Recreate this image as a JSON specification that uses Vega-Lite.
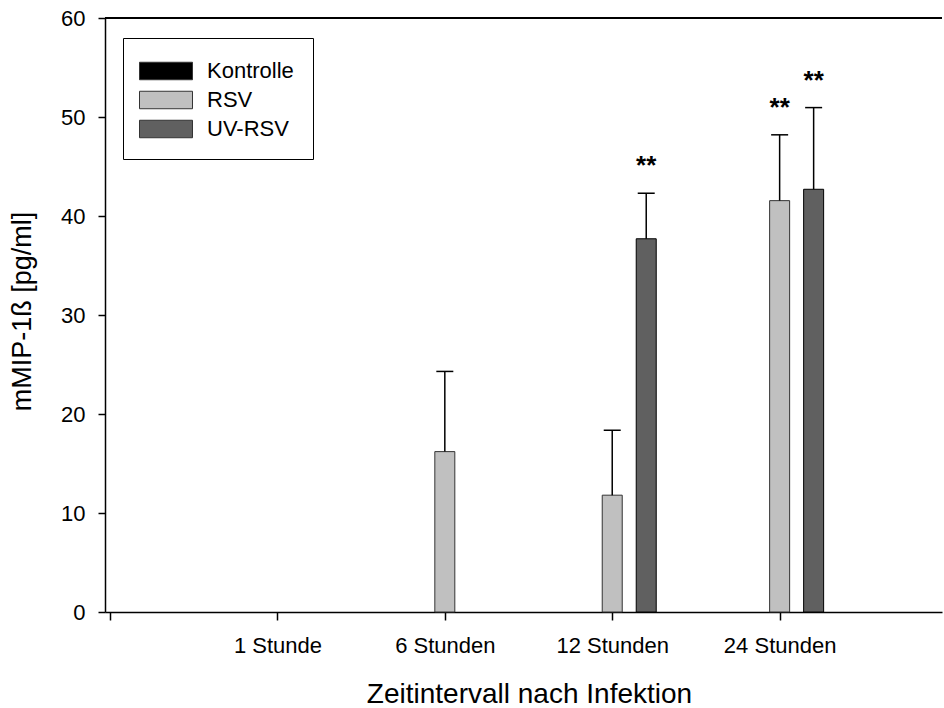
{
  "$schema": "https://vega.github.io/schema/vega-lite/v6.json",
  "width": 837,
  "height": 594,
  "autosize": "none",
  "padding": {"left": 105, "top": 18, "right": 2, "bottom": 96},
  "background": "white",
  "data": {
    "values": [
      {"zeitpunkt": 1, "zeit": "1 Stunde", "gruppe": "Kontrolle", "mittelwert": 0, "sd": 0, "signifikanz": ""},
      {"zeitpunkt": 1, "zeit": "1 Stunde", "gruppe": "RSV", "mittelwert": 0, "sd": 0, "signifikanz": ""},
      {"zeitpunkt": 1, "zeit": "1 Stunde", "gruppe": "UV-RSV", "mittelwert": 0, "sd": 0, "signifikanz": ""},
      {"zeitpunkt": 2, "zeit": "6 Stunden", "gruppe": "Kontrolle", "mittelwert": 0, "sd": 0, "signifikanz": ""},
      {"zeitpunkt": 2, "zeit": "6 Stunden", "gruppe": "RSV", "mittelwert": 16.2, "sd": 8.1, "signifikanz": ""},
      {"zeitpunkt": 2, "zeit": "6 Stunden", "gruppe": "UV-RSV", "mittelwert": 0, "sd": 0, "signifikanz": ""},
      {"zeitpunkt": 3, "zeit": "12 Stunden", "gruppe": "Kontrolle", "mittelwert": 0, "sd": 0, "signifikanz": ""},
      {"zeitpunkt": 3, "zeit": "12 Stunden", "gruppe": "RSV", "mittelwert": 11.8, "sd": 6.55, "signifikanz": ""},
      {"zeitpunkt": 3, "zeit": "12 Stunden", "gruppe": "UV-RSV", "mittelwert": 37.7, "sd": 4.6, "signifikanz": "**"},
      {"zeitpunkt": 4, "zeit": "24 Stunden", "gruppe": "Kontrolle", "mittelwert": 0, "sd": 0, "signifikanz": ""},
      {"zeitpunkt": 4, "zeit": "24 Stunden", "gruppe": "RSV", "mittelwert": 41.55, "sd": 6.65, "signifikanz": "**"},
      {"zeitpunkt": 4, "zeit": "24 Stunden", "gruppe": "UV-RSV", "mittelwert": 42.7, "sd": 8.25, "signifikanz": "**"}
    ]
  },
  "transform": [
    {"calculate": "datum.mittelwert + datum.sd", "as": "oben"}
  ],
  "encoding": {
    "x": {
      "field": "zeitpunkt",
      "type": "quantitative",
      "scale": {"domain": [0, 4.94], "nice": false, "zero": false},
      "axis": {
        "title": "Zeitintervall nach Infektion",
        "values": [0, 1, 2, 3, 4],
        "labelExpr": "datum.value == 1 ? '1 Stunde' : datum.value == 2 ? '6 Stunden' : datum.value == 3 ? '12 Stunden' : datum.value == 4 ? '24 Stunden' : ''",
        "labelFlush": false,
        "labelOverlap": false,
        "labelBound": false,
        "tickSize": 8,
        "labelPadding": 15,
        "titleFontSize": 28,
        "titleX": 424,
        "titleY": 82,
        "titleAlign": "center",
        "titleBaseline": "middle"
      }
    },
    "y": {
      "field": "mittelwert",
      "type": "quantitative",
      "scale": {"domain": [0, 60], "nice": false},
      "axis": {
        "title": "mMIP-1ß [pg/ml]",
        "values": [0, 10, 20, 30, 40, 50, 60],
        "tickSize": 7,
        "labelPadding": 13,
        "titleFontSize": 27,
        "titleAngle": -90,
        "titleX": -83,
        "titleY": 293,
        "titleAlign": "center",
        "titleBaseline": "middle"
      }
    }
  },
  "layer": [
    {
      "mark": {"type": "rule", "color": "black", "strokeWidth": 2},
      "encoding": {"x": null, "y": {"datum": 60}}
    },
    {
      "transform": [{"filter": "datum.gruppe == 'Kontrolle' && datum.mittelwert > 0"}],
      "mark": {"type": "bar", "width": 20, "xOffset": -34, "stroke": "black", "strokeWidth": 1},
      "encoding": {
        "color": {
          "field": "gruppe",
          "type": "nominal",
          "scale": {"domain": ["Kontrolle", "RSV", "UV-RSV"], "range": ["#000000", "#c0c0c0", "#606060"]},
          "legend": {
            "title": null,
            "orient": "none",
            "legendX": 18,
            "legendY": 20,
            "direction": "vertical",
            "strokeColor": "black",
            "padding": 19,
            "labelFontSize": 22,
            "labelColor": "black",
            "labelOffset": 27,
            "rowPadding": 4,
            "symbolType": "M-2,-0.66H2V0.66H-2Z",
            "symbolSize": 702,
            "symbolOffset": 10,
            "symbolStrokeColor": "black",
            "symbolStrokeWidth": 1,
            "symbolOpacity": 1
          }
        }
      }
    },
    {
      "transform": [{"filter": "datum.gruppe == 'RSV' && datum.mittelwert > 0"}],
      "mark": {"type": "bar", "width": 20, "xOffset": 0, "stroke": "#333333", "strokeWidth": 1},
      "encoding": {"color": {"field": "gruppe", "type": "nominal"}}
    },
    {
      "transform": [{"filter": "datum.gruppe == 'UV-RSV' && datum.mittelwert > 0"}],
      "mark": {"type": "bar", "width": 20, "xOffset": 34, "stroke": "black", "strokeWidth": 1},
      "encoding": {"color": {"field": "gruppe", "type": "nominal"}}
    },
    {
      "transform": [{"filter": "datum.gruppe == 'RSV' && datum.sd > 0"}],
      "mark": {"type": "rule", "color": "black", "strokeWidth": 1.5, "xOffset": 0},
      "encoding": {"y2": {"field": "oben"}}
    },
    {
      "transform": [{"filter": "datum.gruppe == 'UV-RSV' && datum.sd > 0"}],
      "mark": {"type": "rule", "color": "black", "strokeWidth": 1.5, "xOffset": 34},
      "encoding": {"y2": {"field": "oben"}}
    },
    {
      "transform": [{"filter": "datum.gruppe == 'RSV' && datum.sd > 0"}],
      "mark": {"type": "tick", "orient": "horizontal", "color": "black", "size": 17, "thickness": 1.5, "opacity": 1, "xOffset": 0},
      "encoding": {"y": {"field": "oben", "type": "quantitative"}}
    },
    {
      "transform": [{"filter": "datum.gruppe == 'UV-RSV' && datum.sd > 0"}],
      "mark": {"type": "tick", "orient": "horizontal", "color": "black", "size": 17, "thickness": 1.5, "opacity": 1, "xOffset": 34},
      "encoding": {"y": {"field": "oben", "type": "quantitative"}}
    },
    {
      "transform": [{"filter": "datum.gruppe == 'RSV' && datum.signifikanz != ''"}],
      "mark": {"type": "text", "font": "Liberation Sans", "fontSize": 26, "fontWeight": "bold", "color": "black", "baseline": "alphabetic", "align": "center", "dy": -19, "xOffset": 0},
      "encoding": {"y": {"field": "oben", "type": "quantitative"}, "text": {"field": "signifikanz"}}
    },
    {
      "transform": [{"filter": "datum.gruppe == 'UV-RSV' && datum.signifikanz != ''"}],
      "mark": {"type": "text", "font": "Liberation Sans", "fontSize": 26, "fontWeight": "bold", "color": "black", "baseline": "alphabetic", "align": "center", "dy": -19, "xOffset": 34},
      "encoding": {"y": {"field": "oben", "type": "quantitative"}, "text": {"field": "signifikanz"}}
    }
  ],
  "config": {
    "view": {"stroke": null},
    "font": "Liberation Sans",
    "axis": {
      "grid": false,
      "domainColor": "black",
      "domainWidth": 1.5,
      "tickColor": "black",
      "tickWidth": 1.5,
      "labelColor": "black",
      "labelFont": "Liberation Sans",
      "labelFontSize": 22,
      "titleColor": "black",
      "titleFont": "Liberation Sans",
      "titleFontWeight": "normal"
    },
    "legend": {"labelFont": "Liberation Sans"}
  }
}
